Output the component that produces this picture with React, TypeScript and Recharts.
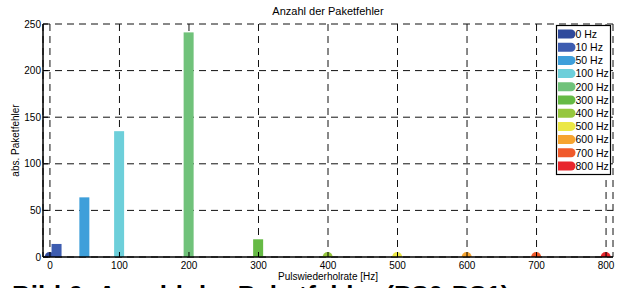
import React from 'react';
import { BarChart, Bar, XAxis, YAxis, CartesianGrid, Cell, Legend } from 'recharts';

const categories = ['0 Hz', '10 Hz', '50 Hz', '100 Hz', '200 Hz', '300 Hz', '400 Hz', '500 Hz', '600 Hz', '700 Hz', '800 Hz'];
const rates = [0, 10, 50, 100, 200, 300, 400, 500, 600, 700, 800];
const errors = [0, 14, 64, 135, 241, 19, 0, 0, 0, 0, 0];
const colors = ['#2f4a9c', '#3d5cb0', '#3e9fda', '#6dcfda', '#70c27a', '#66ba45', '#96c73e', '#ebe745', '#f6a430', '#f05a2b', '#e8262d'];
const xTicks = [0, 100, 200, 300, 400, 500, 600, 700, 800];
const yTicks = [0, 50, 100, 150, 200, 250];

const data = rates.map((r, i) => ({ rate: r, errors: errors[i], name: categories[i], color: colors[i] }));

const FONT = '"Liberation Sans", Arial, sans-serif';
const BAR_W = 10;

const BarShape = (props: any) => {
  const { x, y, width, height, payload } = props;
  const fill = payload.color;
  const cx = x + width / 2;
  if (!height || height < 0.5) {
    const r = BAR_W / 2;
    return <path d={`M${cx - r},${y} A${r},${r} 0 0 1 ${cx + r},${y} Z`} fill={fill} />;
  }
  return <rect x={cx - BAR_W / 2} y={y} width={BAR_W} height={height} fill={fill} />;
};

const XTick = (props: any) => {
  const { x, y, payload } = props;
  return (
    <g>
      <line x1={x} y1={y - 5} x2={x} y2={y - 10} stroke="#000" strokeWidth={1} />
      <text x={x} y={y} dy="0.71em" textAnchor="middle" fontSize={10} fontFamily={FONT} fill="#000">{payload.value}</text>
    </g>
  );
};

const YTick = (props: any) => {
  const { x, y, payload } = props;
  return (
    <g>
      <line x1={x + 2} y1={y} x2={x + 7} y2={y} stroke="#000" strokeWidth={1} />
      <text x={x} y={y} dy="0.355em" textAnchor="end" fontSize={10} fontFamily={FONT} fill="#000">{payload.value}</text>
    </g>
  );
};

const TopTick = (props: any) => {
  const { x, y } = props;
  return <line x1={x} y1={y} x2={x} y2={y + 5} stroke="#000" strokeWidth={1} />;
};

const RightTick = (props: any) => {
  const { x, y } = props;
  return <line x1={x} y1={y} x2={x - 5} y2={y} stroke="#000" strokeWidth={1} />;
};

const LegendBox = () => {
  const h = 149;
  const step = 13.2;
  return (
    <svg width={56} height={h + 2} style={{ display: 'block', overflow: 'visible' }}>
      <rect x={0.5} y={0.5} width={54} height={h} fill="#fff" stroke="#000" strokeWidth={1.2} />
      {categories.map((c, i) => {
        const cy = 9 + i * step;
        return (
          <g key={c}>
            <path d={`M2,${cy - 4.5} h13 a4.5,4.5 0 0 1 0,9 h-13 Z`} fill={colors[i]} />
            <text x={19.5} y={cy + 3.7} fontSize={10.5} fontFamily={FONT} fill="#000">{c}</text>
          </g>
        );
      })}
    </svg>
  );
};

const YLabel = (props: any) => {
  const vb = props.viewBox || {};
  const cx = 15.5;
  const cy = (vb.y ?? 24) + (vb.height ?? 233) / 2;
  return (
    <text x={cx} y={cy} transform={`rotate(-90 ${cx} ${cy})`} textAnchor="middle" dy="0.35em" fontSize={10} fontFamily={FONT} fill="#000">
      abs. Paketfehler
    </text>
  );
};

const XLabel = (props: any) => {
  const vb = props.viewBox || {};
  const cx = (vb.x ?? 43) + (vb.width ?? 570) / 2;
  return (
    <text x={cx} y={280} textAnchor="middle" fontSize={10} fontFamily={FONT} fill="#000">
      Pulswiederholrate [Hz]
    </text>
  );
};

export default function App() {
  return (
    <div style={{ position: 'absolute', left: 0, top: 0, width: 619, height: 288, overflow: 'hidden', background: '#fff' }}>
      <BarChart width={619} height={288} data={data} margin={{ top: 24, right: 6, bottom: 1, left: 0 }} barSize={10}>
        <CartesianGrid stroke="#111" strokeDasharray="7 5" strokeWidth={1} xAxisId="bottom" yAxisId="left" />
        <XAxis
          xAxisId="bottom"
          dataKey="rate"
          type="number"
          domain={[-10, 810]}
          ticks={xTicks}
          interval={0}
          height={30}
          tickSize={0}
          tickMargin={5}
          tick={<XTick />}
          axisLine={{ stroke: '#000', strokeWidth: 1.5 }}
          allowDataOverflow
          label={<XLabel />}
        />
        <XAxis
          xAxisId="top"
          orientation="top"
          dataKey="rate"
          type="number"
          domain={[-10, 810]}
          ticks={xTicks}
          interval={0}
          height={0}
          tickSize={0}
          tickMargin={0}
          tick={<TopTick />}
          axisLine={{ stroke: '#000', strokeWidth: 1.5 }}
          allowDataOverflow
        />
        <YAxis
          yAxisId="left"
          type="number"
          domain={[0, 250]}
          ticks={yTicks}
          interval={0}
          width={43}
          tickSize={0}
          tickMargin={2}
          tick={<YTick />}
          axisLine={{ stroke: '#000', strokeWidth: 1.5 }}
          allowDataOverflow
          label={<YLabel />}
        />
        <YAxis
          yAxisId="right"
          orientation="right"
          type="number"
          domain={[0, 250]}
          ticks={yTicks}
          interval={0}
          width={0}
          tickSize={0}
          tickMargin={0}
          tick={<RightTick />}
          axisLine={{ stroke: '#000', strokeWidth: 1.5 }}
          allowDataOverflow
        />
        <Legend
          layout="vertical"
          align="center"
          verticalAlign="middle"
          content={<LegendBox />}
          wrapperStyle={{ position: 'absolute', left: 556, top: 25, width: 56, height: 152 }}
        />
        <Bar dataKey="errors" xAxisId="bottom" yAxisId="left" shape={<BarShape />} isAnimationActive={false}>
          {data.map((d) => (
            <Cell key={d.name} fill={d.color} />
          ))}
        </Bar>
        <text x={328} y={15} textAnchor="middle" fontSize={11} fontFamily={FONT} fill="#000">Anzahl der Paketfehler</text>
      </BarChart>
      <div style={{ position: 'absolute', left: 12, top: 282, fontFamily: FONT, fontWeight: 'bold', fontSize: 26, lineHeight: '26px', whiteSpace: 'nowrap', color: '#000' }}>
        Bild 6: Anzahl der Paketfehler (PS0-PS1)
      </div>
    </div>
  );
}
